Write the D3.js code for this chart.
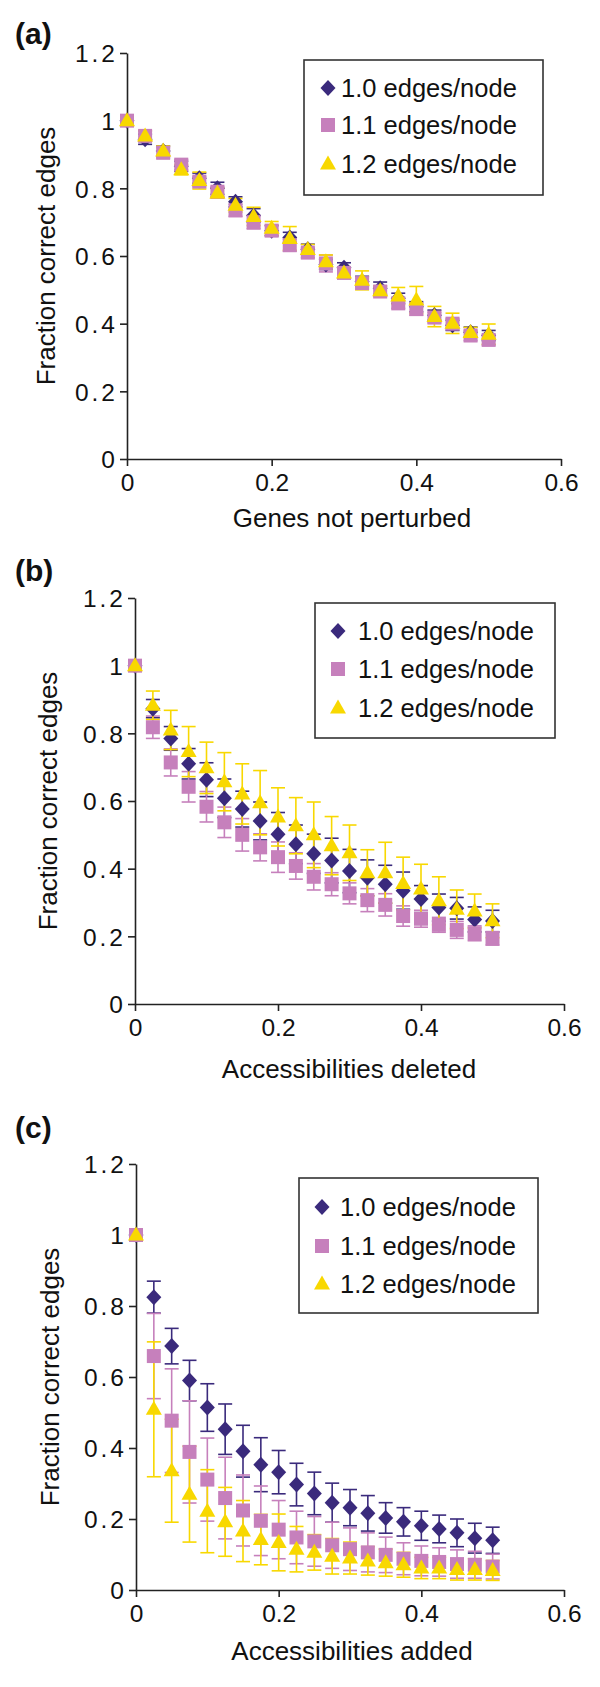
<!DOCTYPE html>
<meta charset="utf-8">
<head>
    <title>Fraction correct edges</title>
    <style>
        body { margin: 0; background: #fff; }
        svg { display: block; font-family: "Liberation Sans", Arial, sans-serif; }
    </style>
</head>
<body>
<script src="https://d3js.org/d3.v7.min.js"></script>
<svg id="chart" width="600" height="1687"></svg>

<script>
    // fraction of genes / accessibilities (same x for every panel)
    var xVals = [0, 0.025, 0.05, 0.075, 0.1, 0.125, 0.15, 0.175, 0.2, 0.225, 0.25,
                 0.275, 0.3, 0.325, 0.35, 0.375, 0.4, 0.425, 0.45, 0.475, 0.5];
    var seriesNames = ["1.0 edges/node", "1.1 edges/node", "1.2 edges/node"];
    var xTicks = [0, 0.2, 0.4, 0.6];
    var yTicks = [0, 0.2, 0.4, 0.6, 0.8, 1, 1.2];

    // (a) genes not perturbed
    var aDiamond = [1.0, 0.945, 0.91, 0.865, 0.83, 0.8, 0.76, 0.72, 0.675, 0.655, 0.62,
                    0.575, 0.565, 0.525, 0.505, 0.475, 0.45, 0.425, 0.395, 0.375, 0.365];
    var aDiamondErr = [0, 0.015, 0.015, 0.015, 0.015, 0.018, 0.015, 0.02, 0.015, 0.015, 0.015,
                       0.015, 0.015, 0.015, 0.018, 0.015, 0.015, 0.015, 0.015, 0.015, 0.015];
    var aSquare = [1.0, 0.955, 0.905, 0.87, 0.82, 0.79, 0.735, 0.7, 0.675, 0.632, 0.61,
                   0.578, 0.55, 0.52, 0.495, 0.46, 0.443, 0.418, 0.4, 0.365, 0.352];
    var aSquareErr = [0, 0.015, 0.015, 0.015, 0.015, 0.015, 0.018, 0.02, 0.015, 0.018, 0.015,
                      0.025, 0.015, 0.015, 0.015, 0.015, 0.018, 0.015, 0.015, 0.015, 0.015];
    var aTriangle = [1.0, 0.955, 0.91, 0.855, 0.823, 0.786, 0.75, 0.717, 0.682, 0.652, 0.619,
                     0.583, 0.55, 0.528, 0.497, 0.482, 0.47, 0.421, 0.401, 0.374, 0.369];
    var aTriangleErr = [0, 0.015, 0.015, 0.015, 0.025, 0.015, 0.02, 0.027, 0.02, 0.035, 0.015,
                        0.02, 0.015, 0.028, 0.015, 0.025, 0.04, 0.03, 0.03, 0.015, 0.03];

    // (b) accessibilities deleted
    var bDiamond = [1.0, 0.873, 0.785, 0.71, 0.663, 0.608, 0.576, 0.541, 0.502, 0.472, 0.444,
                    0.424, 0.393, 0.373, 0.354, 0.335, 0.31, 0.285, 0.283, 0.25, 0.245];
    var bDiamondErr = [0, 0.027, 0.035, 0.045, 0.05, 0.057, 0.053, 0.056, 0.064, 0.057, 0.058,
                       0.066, 0.064, 0.053, 0.056, 0.055, 0.04, 0.04, 0.032, 0.037, 0.032];
    var bSquare = [1.0, 0.818, 0.714, 0.642, 0.583, 0.537, 0.5, 0.463, 0.434, 0.408, 0.376,
                   0.354, 0.327, 0.307, 0.293, 0.26, 0.252, 0.234, 0.219, 0.209, 0.194];
    var bSquareErr = [0, 0.033, 0.04, 0.045, 0.045, 0.045, 0.048, 0.04, 0.045, 0.039, 0.039,
                      0.034, 0.031, 0.034, 0.033, 0.03, 0.025, 0.022, 0.025, 0.022, 0.02];
    var bTriangle = [1.0, 0.883, 0.81, 0.746, 0.698, 0.657, 0.621, 0.595, 0.553, 0.527, 0.5,
                     0.468, 0.447, 0.388, 0.388, 0.356, 0.34, 0.305, 0.28, 0.275, 0.246];
    var bTriangleErr = [0, 0.042, 0.058, 0.074, 0.076, 0.086, 0.089, 0.095, 0.086, 0.083, 0.097,
                        0.086, 0.082, 0.068, 0.09, 0.078, 0.073, 0.071, 0.057, 0.05, 0.05];

    // (c) accessibilities added
    var cDiamond = [1.0, 0.825, 0.687, 0.59, 0.514, 0.453, 0.391, 0.353, 0.332, 0.297, 0.272,
                    0.246, 0.232, 0.216, 0.203, 0.192, 0.181, 0.172, 0.161, 0.146, 0.14];
    var cDiamondErr = [0, 0.045, 0.05, 0.057, 0.067, 0.071, 0.073, 0.076, 0.061, 0.06, 0.06,
                       0.055, 0.051, 0.05, 0.043, 0.04, 0.041, 0.039, 0.039, 0.042, 0.037];
    var cSquare = [1.0, 0.659, 0.477, 0.389, 0.311, 0.259, 0.224, 0.195, 0.17, 0.148, 0.137,
                   0.126, 0.115, 0.106, 0.099, 0.088, 0.082, 0.079, 0.073, 0.071, 0.066];
    var cSquareErr = [0, 0.12, 0.146, 0.144, 0.117, 0.115, 0.1, 0.098, 0.082, 0.074, 0.07,
                      0.065, 0.06, 0.055, 0.05, 0.045, 0.042, 0.04, 0.04, 0.038, 0.035];
    var cTriangle = [1.0, 0.509, 0.336, 0.27, 0.222, 0.192, 0.166, 0.142, 0.134, 0.115, 0.106,
                     0.095, 0.09, 0.082, 0.077, 0.071, 0.062, 0.062, 0.058, 0.058, 0.055];
    var cTriangleErr = [0, 0.19, 0.145, 0.135, 0.117, 0.097, 0.086, 0.071, 0.08, 0.064, 0.05,
                        0.05, 0.045, 0.04, 0.038, 0.035, 0.03, 0.03, 0.03, 0.03, 0.028];

    var colors = ["#3a2a7c", "#c680bc", "#f8d800"];
    var shapes = ["diamond", "square", "triangle"];

    var panels = [
        {tag: "(a)", title: "Genes not perturbed",
         left: 127, right: 561, y12: 53, y0: 459, tagY: 44, titleX: 352, titleY: 527, yTitleX: 46,
         legend: {x: 304, y: 60, w: 239, h: 135, mx: 328, tx: 341, rows: [88, 125, 164]},
         vals: [aDiamond, aSquare, aTriangle], errs: [aDiamondErr, aSquareErr, aTriangleErr]},
        {tag: "(b)", title: "Accessibilities deleted",
         left: 135, right: 564, y12: 598, y0: 1004, tagY: 581, titleX: 349, titleY: 1078, yTitleX: 48,
         legend: {x: 315, y: 603, w: 240, h: 135, mx: 338, tx: 358, rows: [631, 669, 708]},
         vals: [bDiamond, bSquare, bTriangle], errs: [bDiamondErr, bSquareErr, bTriangleErr]},
        {tag: "(c)", title: "Accessibilities added",
         left: 136, right: 564, y12: 1164, y0: 1590, tagY: 1138, titleX: 352, titleY: 1660, yTitleX: 50,
         legend: {x: 299, y: 1178, w: 239, h: 135, mx: 322, tx: 340, rows: [1207, 1246, 1284]},
         vals: [cDiamond, cSquare, cTriangle], errs: [cDiamondErr, cSquareErr, cTriangleErr]}
    ];

    var svg = d3.select("#chart");

    function marker(sel, shape, cx, cy, color) {
        if (shape === "diamond") {
            sel.append("path")
                .attr("d", "M0,-8L7.5,0L0,8L-7.5,0Z")
                .attr("transform", "translate(" + cx + "," + cy + ")")
                .attr("fill", color);
        } else if (shape === "square") {
            sel.append("rect")
                .attr("x", cx - 7).attr("y", cy - 7)
                .attr("width", 14).attr("height", 14)
                .attr("fill", color);
        } else {
            sel.append("path")
                .attr("d", "M0,-8.5L8,5.5L-8,5.5Z")
                .attr("transform", "translate(" + cx + "," + cy + ")")
                .attr("fill", color);
        }
    }

    panels.forEach(drawPanel);

    function drawPanel(p) {
        var x = d3.scaleLinear().domain([0, 0.6]).range([p.left, p.right]),
            y = d3.scaleLinear().domain([0, 1.2]).range([p.y0, p.y12]),
            g = svg.append("g");

        // axes
        var xAxis = g.append("g")
            .attr("transform", "translate(0," + p.y0 + ")")
            .call(d3.axisBottom(x).tickValues(xTicks).tickSize(7).tickSizeOuter(0)
                .tickFormat(d3.format("~g")));
        xAxis.selectAll("text").attr("dy", 0).attr("y", 32)
            .attr("font-size", 24.5).attr("fill", "#111");

        var yAxis = g.append("g")
            .attr("transform", "translate(" + p.left + ",0)")
            .call(d3.axisLeft(y).tickValues(yTicks).tickSize(7).tickSizeOuter(0)
                .tickFormat(d3.format("~g")));
        yAxis.selectAll("text").attr("x", -9).attr("dy", "0.36em")
            .attr("font-size", 24.5).attr("fill", "#111")
            .attr("letter-spacing", "3px");

        g.selectAll(".domain, .tick line").attr("stroke", "#222").attr("stroke-width", 1.6);

        // panel tag and titles
        g.append("text").attr("x", 15).attr("y", p.tagY)
            .attr("font-size", 30).attr("font-weight", "bold").attr("fill", "#111")
            .text(p.tag);
        g.append("text").attr("x", p.titleX).attr("y", p.titleY)
            .attr("text-anchor", "middle").attr("font-size", 26).attr("fill", "#111")
            .text(p.title);
        g.append("text")
            .attr("transform", "translate(" + p.yTitleX + "," + y(0.6) + ") rotate(-90)")
            .attr("text-anchor", "middle").attr("dy", "0.36em")
            .attr("font-size", 26).attr("fill", "#111")
            .text("Fraction correct edges");

        // error bars first, then markers on top
        var bars = g.append("g"), pts = g.append("g");
        p.vals.forEach(function (vals, s) {
            vals.forEach(function (v, i) {
                var e = p.errs[s][i];
                if (e <= 0) return;
                var cx = x(xVals[i]), lo = y(v - e), hi = y(v + e);
                bars.append("line").attr("x1", cx).attr("x2", cx).attr("y1", lo).attr("y2", hi);
                bars.append("line").attr("x1", cx - 7).attr("x2", cx + 7).attr("y1", hi).attr("y2", hi);
                bars.append("line").attr("x1", cx - 7).attr("x2", cx + 7).attr("y1", lo).attr("y2", lo);
            });
            bars.selectAll("line:not([stroke])").attr("stroke", colors[s]).attr("stroke-width", 1.6);
        });
        p.vals.forEach(function (vals, s) {
            vals.forEach(function (v, i) {
                marker(pts, shapes[s], x(xVals[i]), y(v), colors[s]);
            });
        });

        // legend
        var L = p.legend, leg = g.append("g");
        leg.append("rect").attr("x", L.x).attr("y", L.y).attr("width", L.w).attr("height", L.h)
            .attr("fill", "#fff").attr("stroke", "#333").attr("stroke-width", 1.6);
        seriesNames.forEach(function (name, s) {
            marker(leg, shapes[s], L.mx, L.rows[s], colors[s]);
            leg.append("text").attr("x", L.tx).attr("y", L.rows[s]).attr("dy", "0.36em")
                .attr("font-size", 25.5).attr("fill", "#111").text(name);
        });
    }
</script>
</body>
